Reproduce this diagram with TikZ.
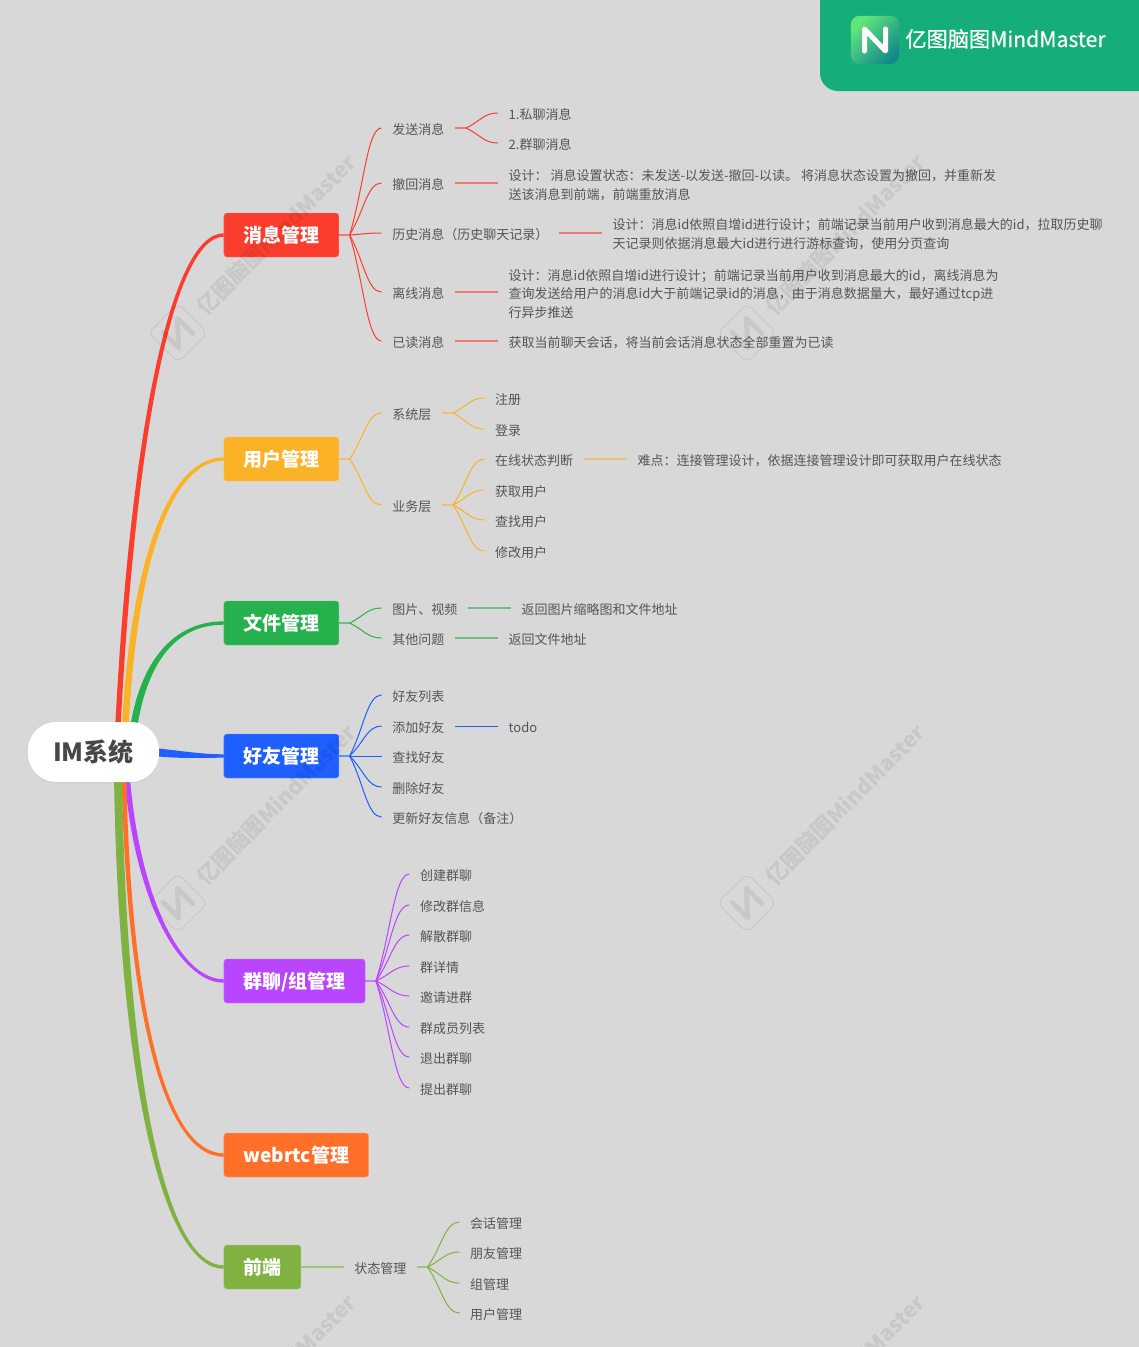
\documentclass[tikz,border=0pt]{standalone}
\usepackage{fontspec}
\setmainfont{Noto Sans CJK SC}
\newfontfamily\brandfont[FakeBold=0.4]{Noto Sans CJK SC}
\usepackage{xcolor}
\usetikzlibrary{positioning, calc, backgrounds, shadows}

\definecolor{pagegray}{HTML}{D8D8D8}
\definecolor{textgray}{HTML}{555555}
\definecolor{bannergreen}{HTML}{15AE78}
\definecolor{logolight}{HTML}{62E67A}
\definecolor{logodark}{HTML}{128A8C}
\definecolor{msgred}{HTML}{FB3D2E}
\definecolor{usryellow}{HTML}{FBB226}
\definecolor{filegreen}{HTML}{25B14B}
\definecolor{frdblue}{HTML}{1F5EFF}
\definecolor{grppurple}{HTML}{BA45FF}
\definecolor{rtcorange}{HTML}{FF6F27}
\definecolor{endolive}{HTML}{7FB241}

\newcommand{\mainlink}[6]{\filldraw[#1, line width=3pt, line join=round] ($(root.center)+(#2)+(#6)$) .. controls ($(root.center)+(#3)+(#6)$) and ($(#5.west)+(#4)+(0,0.2)$) .. ($(#5.west)+(0,0.2)$) -- ($(#5.west)+(0,-0.2)$) .. controls ($(#5.west)+(#4)+(0,-0.2)$) and ($(root.center)+(#3)-(#6)$) .. ($(root.center)+(#2)-(#6)$) -- cycle;}
\newcommand{\wmark}[2]{\begin{scope}[shift={(#1,#2)}, rotate=45, black, opacity=0.07]
\draw[line width=1pt, rounded corners=7pt] (-21,-21) rectangle (21,21);
\draw[line width=5pt, line join=round, line cap=round] (-10,-11) -- (-10,11) -- (10,-11) -- (10,11);
\node [transform shape, font=\fontsize{21.5}{21.5}\selectfont\bfseries, inner sep=0pt] at (139,0) {亿图脑图MindMaster};
\end{scope}}

\begin{document}
\begin{tikzpicture}[
    x=1pt, y=-1pt,
    root/.style={rectangle, rounded corners=28pt, fill=white, minimum width=131pt, minimum height=60pt, inner sep=0pt, text=textgray!85!black, font=\fontsize{25}{25}\selectfont\bfseries, drop shadow={shadow xshift=0pt, shadow yshift=-1pt, opacity=0.18}},
    topic/.style={rectangle, rounded corners=3pt, draw=#1!70!white, fill=#1, minimum height=44pt, inner xsep=19.5pt, inner ysep=0pt, text=white, text height=16pt, text depth=2pt, font=\fontsize{19}{19}\selectfont\bfseries},
    leaf/.style={inner xsep=10.5pt, inner ysep=0pt, text=textgray, text height=12.5pt, text depth=0pt, font=\fontsize{13}{13}\selectfont},
    note/.style={inner xsep=10.5pt, inner ysep=0pt, text=textgray, align=left, font=\fontsize{13}{18.8}\selectfont},
    stub/.style={line width=1.5pt, opacity=0.6},
    curve/.style={line width=1pt, to path={.. controls ($(\tikztostart)!0.45!(\tikztotarget)$) and ($(\tikztotarget)!0.45!(\tikztostart |- \tikztotarget)$) .. (\tikztotarget)}}
]
\useasboundingbox (0,0) rectangle (1139,1347);
\clip (0,0) rectangle (1139,1347);

\begin{pgfonlayer}{background}
\fill[pagegray] (0,0) rectangle (1139,1347);
\end{pgfonlayer}

% Banner
\fill[bannergreen, rounded corners=18pt] (820,-30) rectangle (1170,91);
\node (logo) [rectangle, rounded corners=9pt, minimum size=48pt, inner sep=0pt] at (875,40) {};
\shade[rounded corners=9pt, top color=logolight, bottom color=logodark, shading angle=45] (logo.south west) rectangle (logo.north east);
\draw[white, line width=5pt, line join=round, line cap=round] ($(logo.center)+(-10.5,11)$) -- ($(logo.center)+(-10.5,-11)$) -- ($(logo.center)+(10.5,11)$) -- ($(logo.center)+(10.5,-11)$);
\node (brand) [right=6pt of logo, yshift=1pt, inner sep=0pt, text=white, font=\fontsize{21.2}{21.2}\selectfont\brandfont] {亿图脑图MindMaster};

% Nodes
\node (root) [root] at (93.5,752) {IM系统};
\node (msg) [topic=msgred, right=64.5pt of root, yshift=517pt] {消息管理};
\node (usr) [topic=usryellow, right=64.5pt of root, yshift=293pt] {用户管理};
\node (file) [topic=filegreen, right=64.5pt of root, yshift=129pt] {文件管理};
\node (frd) [topic=frdblue, right=64.5pt of root, yshift=-4pt] {好友管理};
\node (grp) [topic=grppurple, right=64.5pt of root, yshift=-229pt] {群聊/组管理};
\node (rtc) [topic=rtcorange, right=64.5pt of root, yshift=-403pt] {webrtc管理};
\node (end) [topic=endolive, right=64.5pt of root, yshift=-515pt] {前端};

% Message branch
\coordinate [right=10.5pt of msg] (msgJ);
\node (msgA) [leaf, right=32pt of msgJ, yshift=107pt] {发送消息};
\node (msgB) [leaf, right=32pt of msgJ, yshift=52pt] {撤回消息};
\node (msgC) [leaf, right=32pt of msgJ, yshift=2pt] {历史消息（历史聊天记录）};
\node (msgD) [leaf, right=32pt of msgJ, yshift=-57pt] {离线消息};
\node (msgE) [leaf, right=32pt of msgJ, yshift=-106pt] {已读消息};
\coordinate [right=11pt of msgA] (msgAJ);
\node (msgAa) [leaf, right=32pt of msgAJ, yshift=15pt] {1.私聊消息};
\node (msgAb) [leaf, right=32pt of msgAJ, yshift=-15pt] {2.群聊消息};
\node (msgBn) [note, right=43pt of msgB, yshift=-2pt] {设计： 消息设置状态：未发送-以发送-撤回-以读。 将消息状态设置为撤回，并重新发\\送该消息到前端，前端重放消息};
\node (msgCn) [note, right=43pt of msgC, yshift=-1pt] {设计：消息id依照自增id进行设计；前端记录当前用户收到消息最大的id，拉取历史聊\\天记录则依据消息最大id进行进行游标查询，使用分页查询};
\node (msgDn) [note, right=43pt of msgD, yshift=-2pt] {设计：消息id依照自增id进行设计；前端记录当前用户收到消息最大的id，离线消息为\\查询发送给用户的消息id大于前端记录id的消息，由于消息数据量大，最好通过tcp进\\行异步推送};
\node (msgEn) [leaf, right=43pt of msgE] {获取当前聊天会话，将当前会话消息状态全部重置为已读};

% User branch
\coordinate [right=10.5pt of usr] (usrJ);
\node (usrA) [leaf, right=32pt of usrJ, yshift=46pt] {系统层};
\node (usrB) [leaf, right=32pt of usrJ, yshift=-46pt] {业务层};
\coordinate [right=11pt of usrA] (usrAJ);
\coordinate [right=11pt of usrB] (usrBJ);
\node (usrAa) [leaf, right=31.5pt of usrAJ, yshift=15pt] {注册};
\node (usrAb) [leaf, right=31.5pt of usrAJ, yshift=-16pt] {登录};
\node (usrBa) [leaf, right=31.5pt of usrBJ, yshift=46pt] {在线状态判断};
\node (usrBb) [leaf, right=31.5pt of usrBJ, yshift=15pt] {获取用户};
\node (usrBc) [leaf, right=31.5pt of usrBJ, yshift=-15pt] {查找用户};
\node (usrBd) [leaf, right=31.5pt of usrBJ, yshift=-46pt] {修改用户};
\node (usrBn) [leaf, right=43pt of usrBa] {难点：连接管理设计，依据连接管理设计即可获取用户在线状态};

% File branch
\coordinate [right=10.5pt of file] (fileJ);
\node (fileA) [leaf, right=32pt of fileJ, yshift=15pt] {图片、视频};
\node (fileB) [leaf, right=32pt of fileJ, yshift=-15pt] {其他问题};
\node (fileAn) [leaf, right=43pt of fileA] {返回图片缩略图和文件地址};
\node (fileBn) [leaf, right=43pt of fileB] {返回文件地址};

% Friend branch
\coordinate [right=10.5pt of frd] (frdJ);
\node (frdA) [leaf, right=32pt of frdJ, yshift=61pt] {好友列表};
\node (frdB) [leaf, right=32pt of frdJ, yshift=30pt] {添加好友};
\node (frdC) [leaf, right=32pt of frdJ] {查找好友};
\node (frdD) [leaf, right=32pt of frdJ, yshift=-31pt] {删除好友};
\node (frdE) [leaf, right=32pt of frdJ, yshift=-61pt] {更新好友信息（备注）};
\node (frdBn) [leaf, right=43pt of frdB] {todo};

% Group branch
\coordinate [right=10.5pt of grp] (grpJ);
\node (grpA) [leaf, right=33.5pt of grpJ, yshift=107pt] {创建群聊};
\node (grpB) [leaf, right=33.5pt of grpJ, yshift=76pt] {修改群信息};
\node (grpC) [leaf, right=33.5pt of grpJ, yshift=46pt] {解散群聊};
\node (grpD) [leaf, right=33.5pt of grpJ, yshift=15pt] {群详情};
\node (grpE) [leaf, right=33.5pt of grpJ, yshift=-15pt] {邀请进群};
\node (grpF) [leaf, right=33.5pt of grpJ, yshift=-46pt] {群成员列表};
\node (grpG) [leaf, right=33.5pt of grpJ, yshift=-76pt] {退出群聊};
\node (grpH) [leaf, right=33.5pt of grpJ, yshift=-107pt] {提出群聊};

% Front end branch
\node (endA) [leaf, right=42.5pt of end] {状态管理};
\coordinate [right=10.5pt of endA] (endJ);
\node (endAa) [leaf, right=32pt of endJ, yshift=45pt] {会话管理};
\node (endAb) [leaf, right=32pt of endJ, yshift=15pt] {朋友管理};
\node (endAc) [leaf, right=32pt of endJ, yshift=-16pt] {组管理};
\node (endAd) [leaf, right=32pt of endJ, yshift=-46pt] {用户管理};

% Links
\begin{pgfonlayer}{background}
\mainlink{filegreen}{39,-17}{49,-92}{-48,0}{file}{2,0}
\mainlink{msgred}{23.5,-7}{38.5,-322}{-51,0}{msg}{1.2,0}
\mainlink{usryellow}{31,-7}{38,-192}{-53,0}{usr}{1.8,0}
\mainlink{frdblue}{60,0}{90,3}{-23,0}{frd}{0,2.5}
\mainlink{grppurple}{33.5,23}{43.5,148}{-43,0}{grp}{1.2,0}
\mainlink{rtcorange}{30.5,23}{34.5,238}{-63,0}{rtc}{0.8,0}
\mainlink{endolive}{24.5,23}{28.5,308}{-63,0}{end}{2.5,0}
\end{pgfonlayer}

\draw[stub, msgred] (msg.east) -- (msgJ);
\draw[msgred, curve] (msgJ) to (msgA.west);
\draw[msgred, curve] (msgJ) to (msgB.west);
\draw[msgred, curve] (msgJ) to (msgC.west);
\draw[msgred, curve] (msgJ) to (msgD.west);
\draw[msgred, curve] (msgJ) to (msgE.west);
\draw[stub, msgred] (msgA.east) -- (msgAJ);
\draw[msgred, curve] (msgAJ) to (msgAa.west);
\draw[msgred, curve] (msgAJ) to (msgAb.west);
\draw[stub, msgred] (msgB.east) -- (msgB.east -| msgBn.west);
\draw[stub, msgred] (msgC.east) -- (msgC.east -| msgCn.west);
\draw[stub, msgred] (msgD.east) -- (msgD.east -| msgDn.west);
\draw[stub, msgred] (msgE.east) -- (msgEn.west);

\draw[stub, usryellow] (usr.east) -- (usrJ);
\draw[usryellow, curve] (usrJ) to (usrA.west);
\draw[usryellow, curve] (usrJ) to (usrB.west);
\draw[stub, usryellow] (usrA.east) -- (usrAJ);
\draw[stub, usryellow] (usrB.east) -- (usrBJ);
\draw[usryellow, curve] (usrAJ) to (usrAa.west);
\draw[usryellow, curve] (usrAJ) to (usrAb.west);
\draw[usryellow, curve] (usrBJ) to (usrBa.west);
\draw[usryellow, curve] (usrBJ) to (usrBb.west);
\draw[usryellow, curve] (usrBJ) to (usrBc.west);
\draw[usryellow, curve] (usrBJ) to (usrBd.west);
\draw[stub, usryellow] (usrBa.east) -- (usrBn.west);

\draw[stub, filegreen] (file.east) -- (fileJ);
\draw[filegreen, curve] (fileJ) to (fileA.west);
\draw[filegreen, curve] (fileJ) to (fileB.west);
\draw[stub, filegreen] (fileA.east) -- (fileAn.west);
\draw[stub, filegreen] (fileB.east) -- (fileBn.west);

\draw[stub, frdblue] (frd.east) -- (frdJ);
\draw[frdblue, curve] (frdJ) to (frdA.west);
\draw[frdblue, curve] (frdJ) to (frdB.west);
\draw[frdblue, curve] (frdJ) to (frdC.west);
\draw[frdblue, curve] (frdJ) to (frdD.west);
\draw[frdblue, curve] (frdJ) to (frdE.west);
\draw[frdblue] (frdB.east) -- (frdBn.west);

\draw[stub, grppurple] (grp.east) -- (grpJ);
\draw[grppurple, curve] (grpJ) to (grpA.west);
\draw[grppurple, curve] (grpJ) to (grpB.west);
\draw[grppurple, curve] (grpJ) to (grpC.west);
\draw[grppurple, curve] (grpJ) to (grpD.west);
\draw[grppurple, curve] (grpJ) to (grpE.west);
\draw[grppurple, curve] (grpJ) to (grpF.west);
\draw[grppurple, curve] (grpJ) to (grpG.west);
\draw[grppurple, curve] (grpJ) to (grpH.west);

\draw[stub, endolive] (end.east) -- (endA.west);
\draw[stub, endolive] (endA.east) -- (endJ);
\draw[endolive, curve] (endJ) to (endAa.west);
\draw[endolive, curve] (endJ) to (endAb.west);
\draw[endolive, curve] (endJ) to (endAc.west);
\draw[endolive, curve] (endJ) to (endAd.west);

% Watermarks
\wmark{178}{333}
\wmark{747}{333}
\wmark{178}{903}
\wmark{747}{903}
\wmark{178}{1473}
\wmark{747}{1473}

\end{tikzpicture}
\end{document}
